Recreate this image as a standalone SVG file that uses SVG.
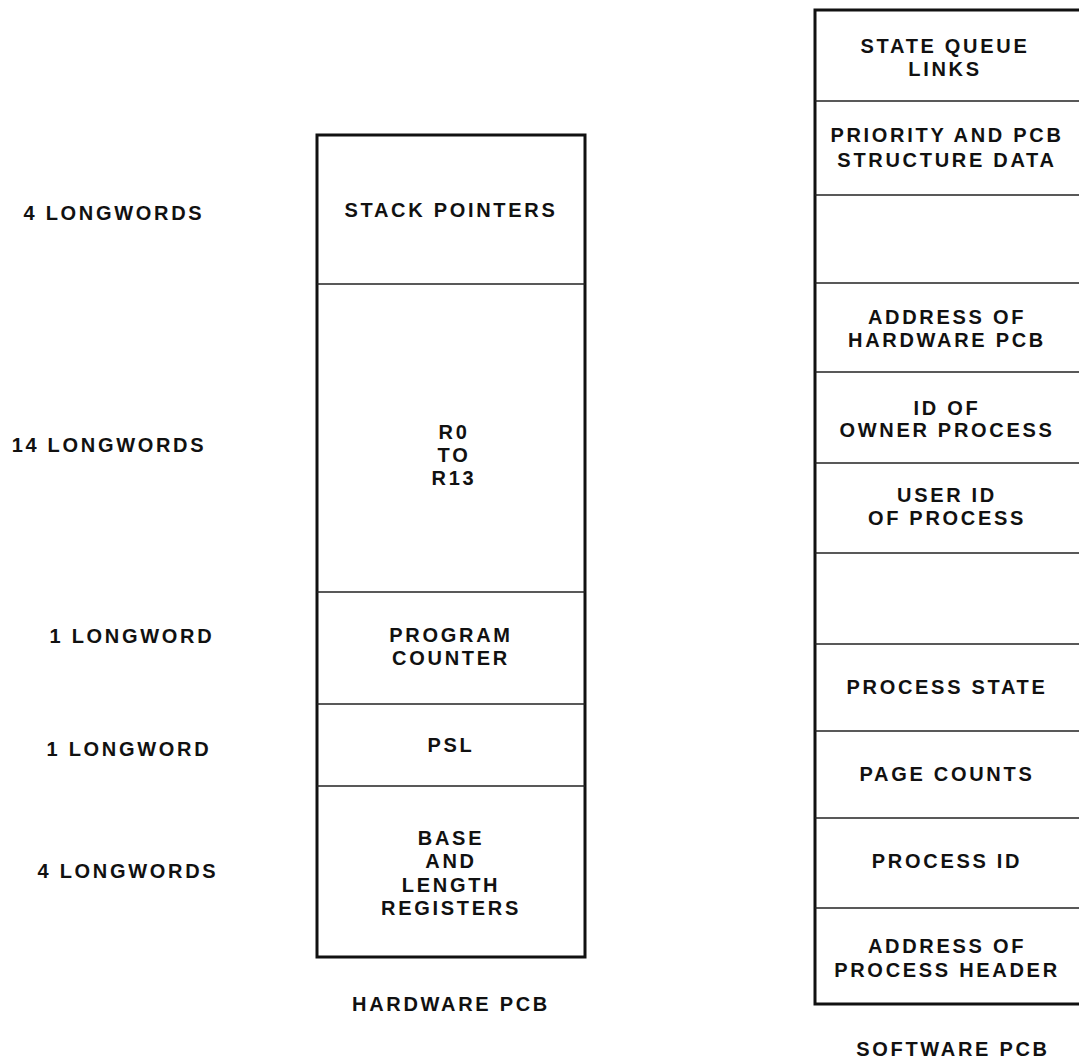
<svg xmlns="http://www.w3.org/2000/svg" width="1079" height="1062" viewBox="0 0 1079 1062">
<style>
  text { font-family: "Liberation Sans", Arial, sans-serif; font-weight: bold; font-size: 20px; letter-spacing: 2.7px; fill: #111; text-anchor: middle; }
  .outer { fill: none; stroke: #111; stroke-width: 3; }
  .div { stroke: #222; stroke-width: 1.4; fill: none; }
</style>
<rect width="1079" height="1062" fill="#fff"/>
<g id="hardware-pcb">
  <rect class="outer" x="317" y="135" width="268" height="822"/>
  <g class="dividers">
    <line class="div" x1="317" y1="284" x2="585" y2="284"/>
    <line class="div" x1="317" y1="592" x2="585" y2="592"/>
    <line class="div" x1="317" y1="704" x2="585" y2="704"/>
    <line class="div" x1="317" y1="786" x2="585" y2="786"/>
  </g>
  <g id="hw-stack"><text x="451" y="217">STACK POINTERS</text></g>
  <g id="hw-regs"><text x="454" y="439">R0</text><text x="454" y="462">TO</text><text x="454" y="485">R13</text></g>
  <g id="hw-pc"><text x="451" y="642">PROGRAM</text><text x="451" y="665">COUNTER</text></g>
  <g id="hw-psl"><text x="451" y="752">PSL</text></g>
  <g id="hw-base"><text x="451" y="845">BASE</text><text x="451" y="868">AND</text><text x="451" y="892">LENGTH</text><text x="451" y="915">REGISTERS</text></g>
  <text x="451" y="1011">HARDWARE PCB</text>
</g>
<g id="sizes">
  <text x="114" y="220">4 LONGWORDS</text>
  <text x="109" y="452">14 LONGWORDS</text>
  <text x="132" y="643">1 LONGWORD</text>
  <text x="129" y="756">1 LONGWORD</text>
  <text x="128" y="878">4 LONGWORDS</text>
</g>
<g id="software-pcb">
  <rect class="outer" x="815" y="10" width="280" height="994"/>
  <g class="dividers">
    <line class="div" x1="815" y1="101" x2="1079" y2="101"/>
    <line class="div" x1="815" y1="195" x2="1079" y2="195"/>
    <line class="div" x1="815" y1="283" x2="1079" y2="283"/>
    <line class="div" x1="815" y1="372" x2="1079" y2="372"/>
    <line class="div" x1="815" y1="463" x2="1079" y2="463"/>
    <line class="div" x1="815" y1="553" x2="1079" y2="553"/>
    <line class="div" x1="815" y1="644" x2="1079" y2="644"/>
    <line class="div" x1="815" y1="731" x2="1079" y2="731"/>
    <line class="div" x1="815" y1="818" x2="1079" y2="818"/>
    <line class="div" x1="815" y1="908" x2="1079" y2="908"/>
  </g>
  <g id="sw-queue"><text x="945" y="53">STATE QUEUE</text><text x="945" y="76">LINKS</text></g>
  <g id="sw-priority"><text x="947" y="142">PRIORITY AND PCB</text><text x="947" y="167">STRUCTURE DATA</text></g>
  <g id="sw-hwaddr"><text x="947" y="324">ADDRESS OF</text><text x="947" y="347">HARDWARE PCB</text></g>
  <g id="sw-owner"><text x="947" y="415">ID OF</text><text x="947" y="437">OWNER PROCESS</text></g>
  <g id="sw-user"><text x="947" y="502">USER ID</text><text x="947" y="525">OF PROCESS</text></g>
  <g id="sw-state"><text x="947" y="694">PROCESS STATE</text></g>
  <g id="sw-pages"><text x="947" y="781">PAGE COUNTS</text></g>
  <g id="sw-pid"><text x="947" y="868">PROCESS ID</text></g>
  <g id="sw-header"><text x="947" y="953">ADDRESS OF</text><text x="947" y="977">PROCESS HEADER</text></g>
  <text x="953" y="1056">SOFTWARE PCB</text>
</g>
</svg>
